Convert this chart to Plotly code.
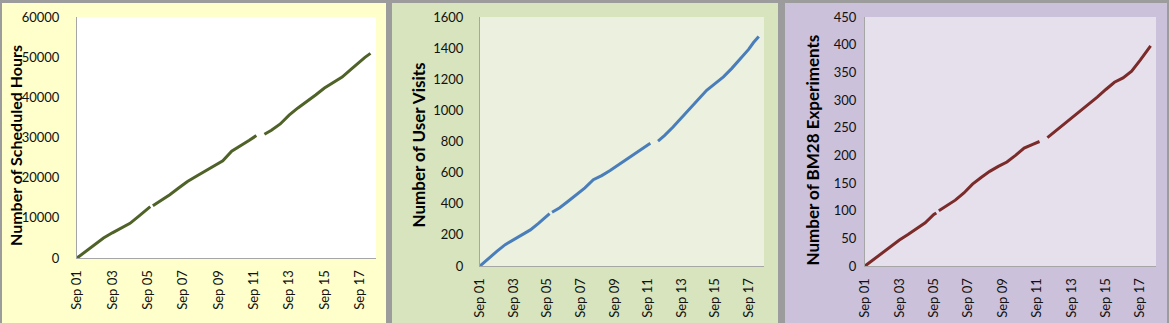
import plotly.graph_objects as go

W, H = 1169, 323

# ---- data ----
times = [
    "2009-09-01 00:00", "2009-09-01 12:00", "2009-09-02 00:00", "2009-09-02 12:00",
    "2009-09-03 00:00", "2009-09-03 12:00", "2009-09-04 00:00", "2009-09-04 12:00",
    "2009-09-05 00:00", "2009-09-05 03:30", "2009-09-05 05:00", "2009-09-05 07:00",
    "2009-09-05 18:00", "2009-09-06 06:00", "2009-09-06 18:00", "2009-09-07 06:00",
    "2009-09-07 18:00", "2009-09-08 06:00", "2009-09-08 18:00", "2009-09-09 06:00",
    "2009-09-09 18:00", "2009-09-10 06:00", "2009-09-10 18:00", "2009-09-11 03:30",
    "2009-09-11 08:00", "2009-09-11 14:30", "2009-09-12 00:00", "2009-09-12 12:00",
    "2009-09-13 00:00", "2009-09-13 12:00", "2009-09-14 00:00", "2009-09-14 12:00",
    "2009-09-15 00:00", "2009-09-15 12:00", "2009-09-16 00:00", "2009-09-16 12:00",
    "2009-09-17 00:00", "2009-09-17 07:00", "2009-09-17 14:30",
]

scheduled_hours = [
    0, 1720, 3450, 4990, 6270, 7530, 8640, 10440, 12230, 12770, None, 13000,
    14310, 15770, 17410, 19050, 20360, 21640, 22730, 24200, 26580, 27850,
    29290, 30470, None, 30800, 31810, 33370, 35560, 37360, 38900, 40570,
    42300, 43710, 45040, 46970, 48940, 49940, 50940,
]

user_visits = [
    0, 49, 94, 137, 167, 197, 232, 275, 323, 337, None, 345,
    374, 416, 457, 502, 554, 581, 614, 651, 689, 725,
    761, 789, None, 802, 839, 893, 952, 1015, 1074, 1129,
    1172, 1215, 1270, 1328, 1392, 1436, 1475,
]

bm28_experiments = [
    0, 12, 24, 36, 47, 57, 67, 78, 93, 96, None, 100,
    109, 119, 132, 148, 160, 171, 180, 188, 200, 213,
    220, 225, None, 232, 242, 254, 266, 279, 292, 305,
    319, 332, 340, 352, 372, 385, 398,
]

tick_dates = ["2009-09-01", "2009-09-03", "2009-09-05", "2009-09-07", "2009-09-09",
              "2009-09-11", "2009-09-13", "2009-09-15", "2009-09-17"]
tick_labels = ["Sep 01", "Sep 03", "Sep 05", "Sep 07", "Sep 09",
               "Sep 11", "Sep 13", "Sep 15", "Sep 17"]
x_range = ["2009-09-01 00:00", "2009-09-17 22:00"]

y_titles = ["Number of Scheduled Hours", "Number of User Visits", "Number of BM28 Experiments"]
y_ranges = [[0, 60000], [0, 1600], [0, 450]]
y_dticks = [10000, 200, 50]
series = [scheduled_hours, user_visits, bm28_experiments]
line_colors = ["#4F6228", "#4A7EBB", "#7A2B2A"]

# ---- layout geometry (pixels) ----
panels = [  # outer panel rect x0, x1, y0(top)
    (2, 386, 3), (392, 778, 3), (785, 1167, 3)
]
panel_colors = ["#FFFFCC", "#D7E4BD", "#CCC1DA"]
plots = [  # plot area: left, right, top, bottom
    (77, 376, 17, 258), (480, 764, 17, 266), (865, 1156, 17, 266)
]
plot_colors = ["#FFFFFF", "#EBF1DE", "#E6E0EC"]
y_standoffs = [14, 13, 5]
title_pos = [(15, 146), (417.5, 145), (811.5, 150)]
title_sizes = [16, 17, 17]

FONT = "Lato"

def fx(px):
    return px / W

def fy(py):
    return 1 - py / H

fig = go.Figure()
shapes = []
annotations = []
layout = {}

for i in range(3):
    n = "" if i == 0 else str(i + 1)
    fig.add_trace(go.Scatter(
        x=times, y=series[i], mode="lines",
        line=dict(color=line_colors[i], width=3),
        connectgaps=False, showlegend=False,
        xaxis="x" + n, yaxis="y" + n,
    ))
    l, r, t, b = plots[i]
    layout["xaxis" + n] = dict(
        domain=[fx(l), fx(r)], anchor="y" + n, type="date", automargin=False,
        range=x_range, tickvals=tick_dates, ticktext=tick_labels,
        tickangle=-90, showgrid=False, zeroline=False,
        showline=True, linecolor="#A6A6A6", linewidth=1, ticks="",
        ticklabelstandoff=6,
        tickfont=dict(family=FONT, size=13, color="#111111"),
    )
    layout["yaxis" + n] = dict(
        domain=[fy(b), fy(t)], anchor="x" + n, automargin=False,
        range=y_ranges[i], dtick=y_dticks[i], tick0=0, tickformat="d",
        showgrid=False, zeroline=False,
        showline=True, linecolor="#A6A6A6", linewidth=1, ticks="",
        ticklabelstandoff=y_standoffs[i],
        tickfont=dict(family=FONT, size=13, color="#111111"),
    )
    x0, x1, y0 = panels[i]
    shapes.append(dict(type="rect", xref="paper", yref="paper",
                       x0=fx(x0), x1=fx(x1), y0=0, y1=fy(y0),
                       fillcolor=panel_colors[i], line=dict(width=0), layer="below"))
    shapes.append(dict(type="rect", xref="paper", yref="paper",
                       x0=fx(l), x1=fx(r), y0=fy(b), y1=fy(t),
                       fillcolor=plot_colors[i], line=dict(width=0), layer="below"))
    tx, ty = title_pos[i]
    annotations.append(dict(
        text=y_titles[i], xref="paper", yref="paper", x=fx(tx), y=fy(ty),
        xanchor="center", yanchor="middle", textangle=-90, showarrow=False,
        font=dict(family=FONT, size=title_sizes[i], color="#000000", weight="bold"),
    ))

fig.update_layout(
    width=W, height=H, margin=dict(l=0, r=0, t=0, b=0),
    paper_bgcolor="#9C9C9C", plot_bgcolor="rgba(0,0,0,0)",
    shapes=shapes, annotations=annotations, **layout,
)

fig.write_html("out.html")
